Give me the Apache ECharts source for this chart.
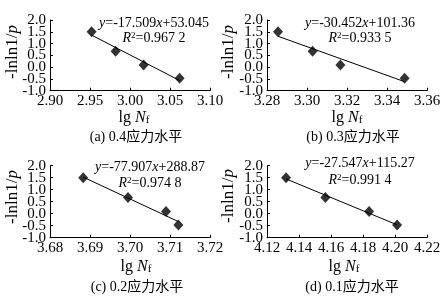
<!DOCTYPE html>
<html><head><meta charset="utf-8">
<script src="https://cdn.jsdelivr.net/npm/echarts@6/dist/echarts.min.js"></script>
<style>html,body{margin:0;padding:0;background:#fff}#c{width:448px;height:300px}</style>
</head><body><div id="c"></div>
<script>
// ---- data ----
const yValues = [1.500, 0.672, 0.087, -0.476];
const xA = [2.952, 2.982, 3.017, 3.062];
const xB = [3.2855, 3.3028, 3.3167, 3.3488];
const xC = [3.6883, 3.6995, 3.7090, 3.7121];
const xD = [4.1319, 4.1565, 4.1838, 4.2013];
const slopes = [-17.509, -30.452, -77.907, -27.547];
const intercepts = [53.045, 101.36, 288.87, 115.27];
const eqTexts = ['-17.509', '-30.452', '-77.907', '-27.547'];
const icTexts = ['53.045', '101.36', '288.87', '115.27'];
const r2Texts = ['0.967 2', '0.933 5', '0.974 8', '0.991 4'];
const subTitles = ['(a) 0.4应力水平', '(b) 0.3应力水平', '(c) 0.2应力水平', '(d) 0.1应力水平'];
const xMins = [2.90, 3.28, 3.68, 4.12];
const xMaxs = [3.10, 3.36, 3.72, 4.22];
const xIntervals = [0.05, 0.02, 0.01, 0.02];
const yTicks = [-1.0, -0.5, 0.0, 0.5, 1.0, 1.5, 2.0];

const xs = [xA, xB, xC, xD];
const FONT = '"Liberation Serif", "Times New Roman", serif';
const CJK = '"Liberation Serif", "Noto Sans CJK SC", serif';
const grids = [
  {left: 50, top: 20, width: 160, height: 70.7},
  {left: 267, top: 20, width: 160, height: 70.7},
  {left: 50, top: 165.7, width: 160, height: 72},
  {left: 267, top: 165.7, width: 160, height: 72}
];
const eqPos = [[154, 23, 38], [360, 23, 38], [150, 167, 183], [360, 163, 180]];
const xNamePos = [[134, 118], [347, 118], [136, 267], [344, 267]];
const yNamePos = [[13, 52], [229, 52], [13, 197], [229, 196]];
const subPos = [[136, 137], [353, 137], [137, 287], [352, 287]];

// tick labels split in two alternating sets so the library never thins them
const yLabelsEven = yTicks.filter((v, k) => k % 2 === 0);
const yLabelsOdd = yTicks.filter((v, k) => k % 2 === 1);

const xAxes = [], yAxes = [], series = [], graphic = [];
for (let i = 0; i < 4; i++) {
  xAxes.push({
    gridIndex: i, type: 'value', min: xMins[i], max: xMaxs[i], interval: xIntervals[i],
    axisLine: {onZero: false, lineStyle: {color: '#000', width: 1}},
    axisTick: {inside: true, length: 3, lineStyle: {color: '#000'}},
    splitLine: {show: false},
    axisLabel: {color: '#000', fontFamily: FONT, fontSize: 15, margin: 3,
      showMinLabel: true, showMaxLabel: true, hideOverlap: false,
      formatter: v => v.toFixed(2)}
  });
  const yBase = {
    gridIndex: i, type: 'value', position: 'left', offset: 0,
    min: yTicks[0], max: yTicks[yTicks.length - 1], interval: 0.5,
    splitLine: {show: false}
  };
  yAxes.push(Object.assign({}, yBase, {
    axisLine: {show: true, onZero: false, lineStyle: {color: '#000', width: 1}},
    axisTick: {show: true, inside: true, length: 3, lineStyle: {color: '#000'}},
    axisLabel: {color: '#000', fontFamily: FONT, fontSize: 15, margin: 4,
      customValues: yLabelsEven, showMinLabel: true, showMaxLabel: true, hideOverlap: false,
      formatter: v => Number(v).toFixed(1)}
  }));
  yAxes.push(Object.assign({}, yBase, {
    axisLine: {show: false, onZero: false},
    axisTick: {show: false},
    axisLabel: {color: '#000', fontFamily: FONT, fontSize: 15, margin: 4,
      customValues: yLabelsOdd, hideOverlap: false,
      formatter: v => Number(v).toFixed(1)}
  }));
  series.push({
    type: 'scatter', xAxisIndex: i, yAxisIndex: 2 * i,
    data: xs[i].map((x, k) => [x, yValues[k]]),
    symbol: 'diamond', symbolSize: [10, 11],
    itemStyle: {color: '#000'}, z: 3
  });
  const x0 = xs[i][0], x1 = xs[i][xs[i].length - 1];
  series.push({
    type: 'line', xAxisIndex: i, yAxisIndex: 2 * i,
    data: [[x0, slopes[i] * x0 + intercepts[i]], [x1, slopes[i] * x1 + intercepts[i]]],
    symbol: 'none', lineStyle: {color: '#000', width: 1}, z: 2
  });
  const base = {fontFamily: FONT, fontSize: 14, fill: '#000'};
  const rich = {
    i: {fontFamily: FONT, fontSize: 14, fontStyle: 'italic', fill: '#000'},
    n: {fontFamily: FONT, fontSize: 14, fill: '#000'},
    sup: {fontFamily: FONT, fontSize: 9, verticalAlign: 'top', fill: '#000'}
  };
  const richX = {
    i: {fontFamily: FONT, fontSize: 16, fontStyle: 'italic', fill: '#000'},
    n: {fontFamily: FONT, fontSize: 16, fill: '#000'},
    sub: {fontFamily: FONT, fontSize: 11, verticalAlign: 'bottom', fill: '#000'}
  };
  const richY = {
    i: {fontFamily: FONT, fontSize: 17, fontStyle: 'italic', fill: '#000'},
    n: {fontFamily: FONT, fontSize: 17, fill: '#000'}
  };
  graphic.push({type: 'text', x: eqPos[i][0], y: eqPos[i][1], style: Object.assign({}, base, {
    text: '{i|y}{n|=' + eqTexts[i] + '}{i|x}{n|+' + icTexts[i] + '}', rich: rich,
    align: 'center', verticalAlign: 'middle'})});
  graphic.push({type: 'text', x: eqPos[i][0], y: eqPos[i][2], style: Object.assign({}, base, {
    text: '{i|R}{sup|2}{n|=' + r2Texts[i] + '}', rich: rich,
    align: 'center', verticalAlign: 'middle'})});
  graphic.push({type: 'text', x: xNamePos[i][0], y: xNamePos[i][1], style: Object.assign({}, base, {
    text: '{n|lg }{i|N}{sub|f}', rich: richX, align: 'center', verticalAlign: 'middle'})});
  graphic.push({type: 'text', x: yNamePos[i][0], y: yNamePos[i][1], rotation: Math.PI / 2,
    style: Object.assign({}, base, {
    text: '{n|-lnln1/}{i|p}', rich: richY, align: 'center', verticalAlign: 'middle'})});
  graphic.push({type: 'text', x: subPos[i][0], y: subPos[i][1], style: {
    text: subTitles[i], fontFamily: CJK, fontSize: 14, fill: '#000',
    align: 'center', verticalAlign: 'middle'}});
}

const chart = echarts.init(document.getElementById('c'), null, {renderer: 'canvas'});
chart.setOption({
  backgroundColor: '#fff', animation: false,
  grid: grids, xAxis: xAxes, yAxis: yAxes, series: series, graphic: graphic
});
</script></body></html>
